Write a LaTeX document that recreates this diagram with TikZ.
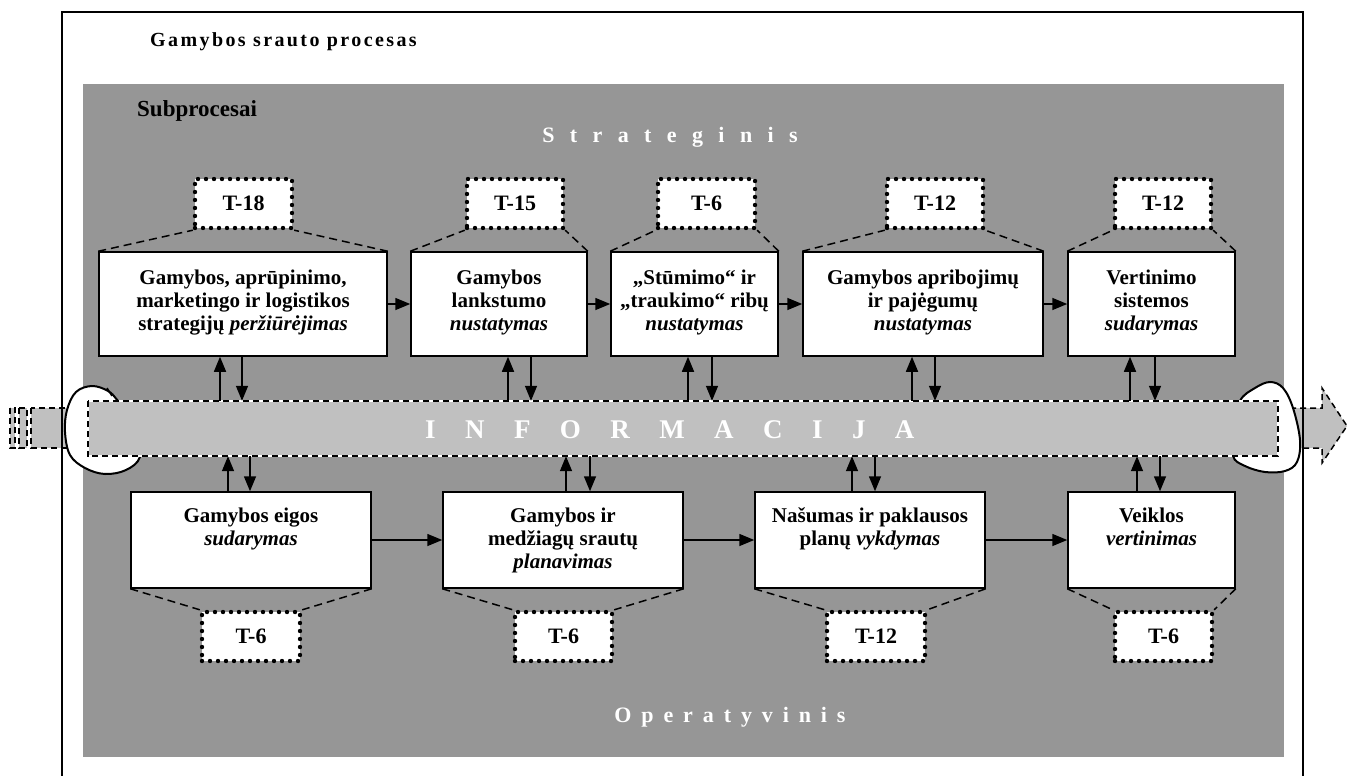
\documentclass[tikz,border=0pt]{standalone}
\usepackage{fontspec}
\setmainfont{Liberation Serif}
\usetikzlibrary{arrows.meta}
\definecolor{panel}{HTML}{969696}
\definecolor{infobar}{HTML}{C0C0C0}
\tikzset{
  pbox/.style={draw, fill=white, line width=1.5pt, inner sep=0pt},
  tbox/.style={fill=white, draw, line width=4.4pt, line cap=round,
    dash pattern=on 0pt off 8pt, inner sep=0pt, minimum height=49pt,
    font=\fontsize{22}{24}\selectfont\bfseries},
  ptext/.style={anchor=north, inner sep=0pt, align=center,
    font=\fontsize{21}{23}\selectfont\bfseries},
  link/.style={line width=1.5pt, -{Triangle[length=15pt,width=12pt]}},
  trap/.style={line width=1.5pt, dash pattern=on 8pt off 5pt},
  flowdash/.style={line width=1.5pt, dash pattern=on 6pt off 4pt},
  blob/.style={draw, fill=white, line width=2pt},
  frameline/.style={line width=2pt},
}
\begin{document}
\begin{tikzpicture}[x=1pt, y=-1pt]
\useasboundingbox (0,0) rectangle (1349,776);

% grey working area
\fill[panel] (83,84) rectangle (1284,757);

% information flow: tail on the left, arrow head on the right
\foreach \a/\b in {10/15, 19/27, 31/78}
  \draw[flowdash, fill=infobar] (\a,408) rectangle (\b,448);
\draw[flowdash, fill=infobar] (1280,408) -- (1322,408) -- (1322,388) -- (1347,426)
  -- (1322,463) -- (1322,448) -- (1280,448) -- cycle;

% loops around both ends of the information bar
\draw[blob] plot[smooth cycle, tension=0.6] coordinates {(118,401) (108,391) (92,386)
  (76,392) (67,410) (65,432) (70,455) (85,468) (105,474) (126,470) (140,457) (140,430)};
\draw[line width=1.5pt] (107,388) -- (112,396);
\draw[blob] plot[smooth cycle, tension=0.6] coordinates {(1240,401) (1255,388) (1270,382)
  (1283,388) (1293,408) (1300,440) (1297,462) (1285,471) (1265,472) (1245,466)
  (1233,456) (1235,430)};

% information bar
\node[fill=infobar, minimum width=1190pt, minimum height=55pt, inner sep=0pt] (bar) at (683,428.5) {};
\draw[white, line width=1.5pt] (bar.north west) rectangle (bar.south east);
\draw[flowdash] (bar.north west) rectangle (bar.south east);
\node[text=white, font=\fontsize{27}{30}\selectfont\bfseries\addfontfeature{LetterSpace=109}, anchor=base west, inner sep=0pt]
  (info) at (425,438) {INFORMACIJA};

% outer frame
\draw[frameline] (62,776) -- (62,12) -- (1303,12) -- (1303,776);

% headings
\node[anchor=base west, inner sep=0pt, font=\fontsize{20}{22}\selectfont\bfseries\addfontfeature{LetterSpace=12}]
  (title) at (150,47) {Gamybos srauto procesas};
\node[anchor=base west, inner sep=0pt, font=\fontsize{23}{25}\selectfont\bfseries]
  (sub) at (137,116) {Subprocesai};
\node[anchor=base, inner sep=0pt, text=white, font=\fontsize{22}{24}\selectfont\bfseries\addfontfeature{LetterSpace=70}]
  (strat) at (670,142) {Strateginis};
\node[anchor=base, inner sep=0pt, text=white, font=\fontsize{22}{24}\selectfont\bfseries\addfontfeature{LetterSpace=45}]
  (oper) at (730,722) {Operatyvinis};

% strategic subprocesses
\node[pbox, minimum width=288pt, minimum height=104pt] (t1) at (243,304) {};
\node[pbox, minimum width=176pt, minimum height=104pt] (t2) at (499,304) {};
\node[pbox, minimum width=167pt, minimum height=104pt] (t3) at (694.5,304) {};
\node[pbox, minimum width=240pt, minimum height=104pt] (t4) at (923,304) {};
\node[pbox, minimum width=167pt, minimum height=104pt] (t5) at (1151.5,304) {};

\node[ptext] (t1x) at ([yshift=-17pt]t1.north) {\strut Gamybos, aprūpinimo,\\marketingo ir logistikos\\strategijų \textit{peržiūrėjimas}};
\node[ptext] (t2x) at ([yshift=-17pt]t2.north) {\strut Gamybos\\lankstumo\\\textit{nustatymas}};
\node[ptext] (t3x) at ([yshift=-17pt]t3.north) {\strut „Stūmimo“ ir\\„traukimo“ ribų\\\textit{nustatymas}};
\node[ptext] (t4x) at ([yshift=-17pt]t4.north) {\strut Gamybos apribojimų\\ir pajėgumų\\\textit{nustatymas}};
\node[ptext] (t5x) at ([yshift=-17pt]t5.north) {\strut Vertinimo\\sistemos\\\textit{sudarymas}};

% operative subprocesses
\node[pbox, minimum width=240pt, minimum height=96pt] (b1) at (251,540) {};
\node[pbox, minimum width=240pt, minimum height=96pt] (b2) at (563,540) {};
\node[pbox, minimum width=230pt, minimum height=96pt] (b3) at (870,540) {};
\node[pbox, minimum width=167pt, minimum height=96pt] (b4) at (1151.5,540) {};

\node[ptext] (b1x) at ([yshift=-15pt]b1.north) {\strut Gamybos eigos\\\textit{sudarymas}};
\node[ptext] (b2x) at ([yshift=-15pt]b2.north) {\strut Gamybos ir\\medžiagų srautų\\\textit{planavimas}};
\node[ptext] (b3x) at ([yshift=-15pt]b3.north) {\strut Našumas ir paklausos\\planų \textit{vykdymas}};
\node[ptext] (b4x) at ([yshift=-15pt]b4.north) {\strut Veiklos\\\textit{vertinimas}};

% duration tags
\node[tbox, minimum width=97pt] (T1) at (243.5,203.5) {T-18};
\node[tbox, minimum width=96pt] (T2) at (515,203.5) {T-15};
\node[tbox, minimum width=97pt] (T3) at (706.5,203.5) {T-6};
\node[tbox, minimum width=96pt] (T4) at (935,203.5) {T-12};
\node[tbox, minimum width=96pt] (T5) at (1163,203.5) {T-12};
\node[tbox, minimum width=98pt] (U1) at (251,636.5) {T-6};
\node[tbox, minimum width=97pt] (U2) at (563.5,636.5) {T-6};
\node[tbox, minimum width=98pt] (U3) at (876,636.5) {T-12};
\node[tbox, minimum width=97pt] (U4) at (1163.5,636.5) {T-6};

% tags joined to their subprocesses
\foreach \p/\q in {t1/T1, t2/T2, t3/T3, t4/T4, t5/T5} {
  \draw[trap] (\p.north west) -- (\q.south west);
  \draw[trap] (\p.north east) -- (\q.south east);
}
\foreach \p/\q in {b1/U1, b2/U2, b3/U3, b4/U4} {
  \draw[trap] (\p.south west) -- (\q.north west);
  \draw[trap] (\p.south east) -- (\q.north east);
}

% sequence of subprocesses
\draw[link] (t1.east) -- (t2.west);
\draw[link] (t2.east) -- (t3.west);
\draw[link] (t3.east) -- (t4.west);
\draw[link] (t4.east) -- (t5.west);
\draw[link] (b1.east) -- (b2.west);
\draw[link] (b2.east) -- (b3.west);
\draw[link] (b3.east) -- (b4.west);

% exchange with the information bar
\foreach \p/\u/\d in {t1/-23/-1, t2/9/32, t3/-6.5/17.5, t4/-11/12, t5/-21.5/3.5} {
  \draw[link] ([xshift=\u pt]\p.south |- bar.north) -- ([xshift=\u pt]\p.south);
  \draw[link] ([xshift=\d pt]\p.south) -- ([xshift=\d pt]\p.south |- bar.north);
}
\foreach \p/\u/\d in {b1/-23/-1, b2/3/27, b3/-18/5, b4/-14.5/8.5} {
  \draw[link] ([xshift=\u pt]\p.north) -- ([xshift=\u pt]\p.north |- bar.south);
  \draw[link] ([xshift=\d pt]\p.north |- bar.south) -- ([xshift=\d pt]\p.north);
}
\end{tikzpicture}
\end{document}
